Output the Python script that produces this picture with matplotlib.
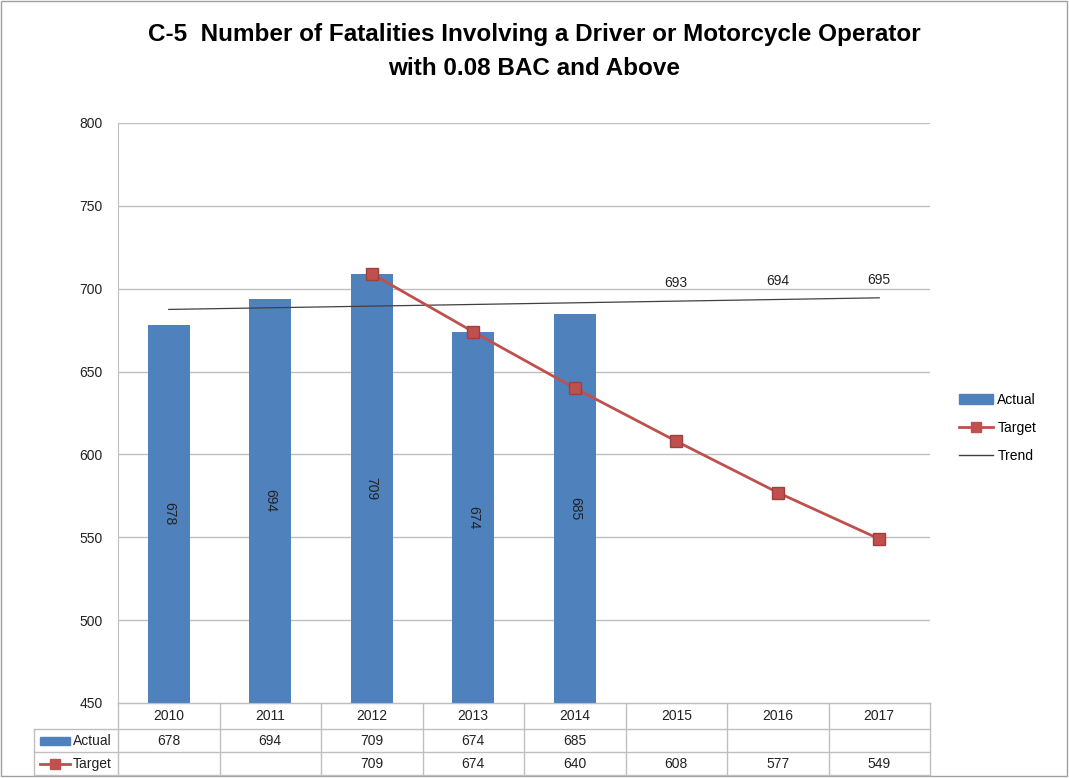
import numpy as np
import matplotlib.pyplot as plt
from matplotlib import transforms
from matplotlib.lines import Line2D
from matplotlib.patches import Patch

plt.rcParams['font.family'] = ['Liberation Sans', 'DejaVu Sans']

years = ["2010", "2011", "2012", "2013", "2014", "2015", "2016", "2017"]
actual = [678, 694, 709, 674, 685, None, None, None]
target = [None, None, 709, 674, 640, 608, 577, 549]
trend = [687.5, 688.5, 689.5, 690.5, 691.5, 692.5, 693.5, 694.5]
trend_labels = [None, None, None, None, None, 693, 694, 695]

BLUE = "#4F81BD"
RED = "#C0504D"
GRID = "#BFBFBF"

W, H = 1069, 778
fig = plt.figure(figsize=(W / 100, H / 100), dpi=100)
ax = fig.add_axes([118 / W, 1 - 703 / H, 812 / W, 580 / H])

x = np.arange(len(years))

# bars
xa = [i for i, v in zip(x, actual) if v is not None]
va = [v for v in actual if v is not None]
ax.bar(xa, [v - 450 for v in va], bottom=450, width=0.41, color=BLUE, zorder=2)
for xi, v in zip(xa, va):
    ax.text(xi, (450 + v) / 2, str(v), rotation=270, ha="center", va="center",
            fontsize=10, color="#222222", zorder=3)

# trend
ax.plot(x, trend, color="#404040", lw=0.9, zorder=3)
for xi, t, lab in zip(x, trend, trend_labels):
    if lab is not None:
        ax.annotate(str(lab), (xi, t), xytext=(0, 8), textcoords="offset points",
                    ha="center", va="bottom", fontsize=10, color="#222222")

# target
xt = [i for i, v in zip(x, target) if v is not None]
vt = [v for v in target if v is not None]
ax.plot(xt, vt, color=RED, lw=2, marker="s", markersize=8,
        markerfacecolor=RED, markeredgecolor="#A0403D", zorder=4)

ax.set_xlim(-0.5, len(years) - 0.5)
ax.set_ylim(450, 800)
ax.set_yticks(np.arange(450, 801, 50))
ax.tick_params(axis="y", length=0, labelsize=10, pad=11, colors="#222222")
ax.set_xticks([])
ax.grid(axis="y", color=GRID, lw=1, zorder=0)
for s in ["top", "right"]:
    ax.spines[s].set_visible(False)
ax.spines["left"].set_color(GRID)
ax.spines["bottom"].set_color(GRID)

# data table below the plot
ov = fig.add_axes([0, 0, 1, 1], zorder=-1)
ov.set_xlim(0, W)
ov.set_ylim(H, 0)
ov.axis("off")
tr = transforms.blended_transform_factory(ax.transData, ov.transData)
rows_y = [703, 729, 752, 775]
kw = dict(color=GRID, lw=1, clip_on=False)
ov.plot([118, 930], [703, 703], **kw)
for yy in rows_y[1:]:
    ov.plot([34, 930], [yy, yy], **kw)
ov.plot([34, 34], [729, 775], **kw)
for b in np.arange(len(years) + 1) - 0.5:
    ax.plot([b, b], [703, 775], transform=tr, **kw)

for i, yr in enumerate(years):
    ax.text(i, 716, yr, transform=tr, ha="center", va="center", fontsize=10, color="#222222")
    if actual[i] is not None:
        ax.text(i, 741, str(actual[i]), transform=tr, ha="center", va="center",
                fontsize=10, color="#222222")
    if target[i] is not None:
        ax.text(i, 764, str(target[i]), transform=tr, ha="center", va="center",
                fontsize=10, color="#222222")

# row label keys
ov.add_patch(plt.Rectangle((40, 737), 30, 8, color=BLUE))
ov.text(73, 741, "Actual", ha="left", va="center", fontsize=10, color="#222222")
ov.plot([40, 70], [764, 764], color=RED, lw=2)
ov.plot([55], [764], marker="s", color=RED, markersize=7)
ov.text(73, 764, "Target", ha="left", va="center", fontsize=10, color="#222222")

# outer border
ov.add_patch(plt.Rectangle((1, 1), W - 3, H - 3, fill=False, ec="#A0A0A0", lw=1))

# legend
handles = [Patch(color=BLUE),
           Line2D([], [], color=RED, lw=2, marker="s", markersize=7),
           Line2D([], [], color="#404040", lw=1)]
fig.legend(handles, ["Actual", "Target", "Trend"], loc="center left",
           bbox_to_anchor=(946 / W, 1 - 428 / H), frameon=False, fontsize=10,
           handlelength=2.5, labelspacing=1.0, handletextpad=0.3)

fig.suptitle("C-5  Number of Fatalities Involving a Driver or Motorcycle Operator\nwith 0.08 BAC and Above",
             x=0.5, y=1 - 23 / H, va="top", fontsize=17.5, fontweight="bold", linespacing=1.6)

fig.savefig("out.png", dpi=100)
